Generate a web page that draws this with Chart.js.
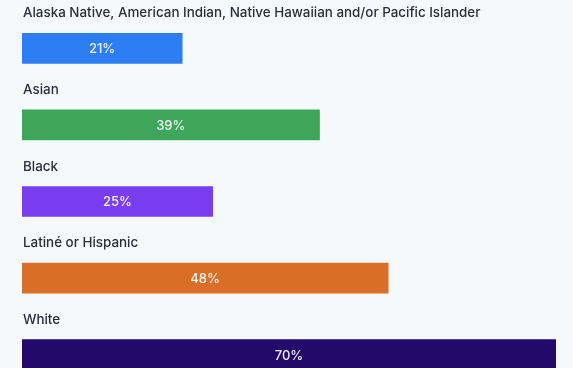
<!DOCTYPE html>
<html>
<head>
<meta charset="utf-8">
<script src="https://cdn.jsdelivr.net/npm/chart.js@4"></script>
<style>
  html, body { margin: 0; padding: 0; background: #f6f9fc; overflow: hidden; }
  #wrap { width: 573px; height: 368px; overflow: hidden; }
</style>
</head>
<body>
<div id="wrap"><canvas id="raceChart" width="573" height="393"></canvas></div>
<script>
var groups = ['Alaska Native, American Indian, Native Hawaiian and/or Pacific Islander',
              'Asian', 'Black', 'Latiné or Hispanic', 'White'];
var shares = [21, 39, 25, 48, 70];
var barColors = ['#2d7ef3', '#3da659', '#7a3ef0', '#d86e27', '#22096a'];

// labels: group name above each bar, percentage inside it
var barText = {
    id: 'barText',
    afterDatasetsDraw: function(chart) {
        var ctx = chart.ctx;
        var bars = chart.getDatasetMeta(0).data;
        ctx.save();
        bars.forEach(function(bar, i) {
            ctx.textBaseline = 'middle';
            ctx.textAlign = 'left';
            ctx.fillStyle = '#2a2e38';
            ctx.font = '500 13.4px Inter';
            ctx.fillText(groups[i], chart.chartArea.left + 1, bar.y - 35);

            ctx.textAlign = 'center';
            ctx.fillStyle = 'rgba(255,255,255,0.92)';
            ctx.font = '500 13px Inter';
            ctx.fillText(shares[i] + '%', (bar.base + bar.x) / 2, bar.y + 1);
        });
        ctx.restore();
    }
};

new Chart(document.getElementById('raceChart').getContext('2d'), {
    type: 'bar',
    data: {
        labels: groups,
        datasets: [{
            data: shares,
            backgroundColor: barColors,
            borderWidth: 0,
            barThickness: 30
        }]
    },
    options: {
        indexAxis: 'y',
        responsive: false,
        animation: false,
        layout: { padding: { left: 22, right: 17, top: 10, bottom: 0 } },
        plugins: {
            legend: { display: false },
            tooltip: { enabled: false }
        },
        scales: {
            x: { display: false, min: 0, max: 70 },
            y: { display: false }
        }
    },
    plugins: [barText]
});
</script>
</body>
</html>
